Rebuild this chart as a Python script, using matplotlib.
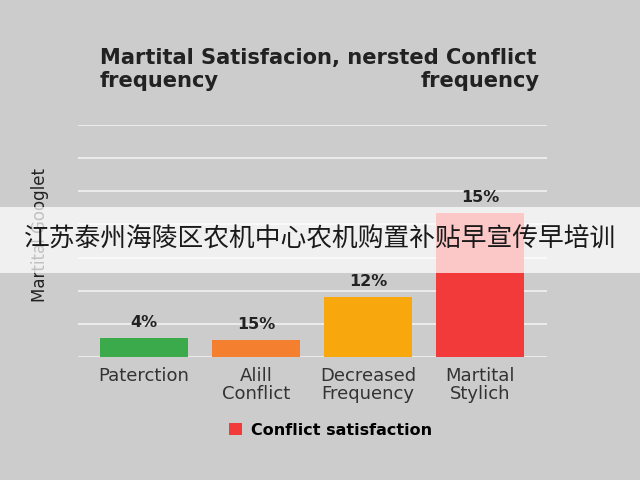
import matplotlib.pyplot as plt
from matplotlib.patches import Patch, Rectangle

categories = ["Paterction", "Alill\nConflict", "Decreased\nFrequency", "Martital\nStylich"]
heights = [2.9, 2.6, 9.1, 21.7]
bar_labels = ["4%", "15%", "12%", "15%"]
colors = ["#3aaa4a", "#f47f2e", "#f8a80c", "#f23a3a"]
legend_label = "Conflict satisfaction"
banner_text = "江苏泰州海陵区农机中心农机购置补贴早宣传早培训"

plt.rcParams['font.family'] = ['DejaVu Sans']

fig = plt.figure(figsize=(6.4, 4.8), dpi=100)
fig.patch.set_facecolor('#cccccc')

ax = fig.add_axes([0.122, 0.256, 0.733, 0.484])
ax.set_facecolor('none')
x = list(range(len(categories)))
bars = ax.bar(x, heights, width=0.79, color=colors, zorder=3)
for xi, h, lab in zip(x, heights, bar_labels):
    ax.text(xi, h + 1.2, lab, ha='center', va='bottom', fontsize=11.5,
            fontweight='bold', color='#222222', zorder=4)

ax.set_xlim(-0.59, 3.6)
ax.set_ylim(0, 35)
ax.set_yticks(range(0, 36, 5))
ax.yaxis.grid(True, color='#f2f2f2', linewidth=1.2, zorder=0)
ax.tick_params(axis='y', left=False, labelleft=False)
ax.tick_params(axis='x', length=0, pad=7, labelsize=13, labelcolor='#333333')
ax.set_xticks(x)
ax.set_xticklabels(categories, linespacing=1.0)
for s in ax.spines.values():
    s.set_visible(False)

fig.text(0.0625, 0.51, "Martital Googlet", rotation=90, ha='center', va='center',
         fontsize=12, color='#222222')

fig.text(0.156, 0.88, "Martital Satisfacion, nersted Conflict", ha='left', va='center',
         fontsize=15.1, fontweight='bold', color='#222222')
fig.text(0.156, 0.831, "frequency", ha='left', va='center',
         fontsize=15.1, fontweight='bold', color='#222222')
fig.text(0.844, 0.831, "frequency", ha='right', va='center',
         fontsize=15.1, fontweight='bold', color='#222222')

handles = [Patch(facecolor=colors[3], label=legend_label)]
fig.legend(handles=handles, loc='center', bbox_to_anchor=(0.517, 0.104), frameon=False,
           prop={'weight': 'bold', 'size': 11.5}, handlelength=0.8, handleheight=0.8,
           handletextpad=0.6)

# translucent banner across the middle
fig.patches.append(Rectangle((0, 1 - 273 / 480), 1, 66 / 480, transform=fig.transFigure,
                             facecolor='white', alpha=0.72, edgecolor='none', zorder=10))
fig.text(0.5, 1 - 240 / 480, banner_text, ha='center', va='center', fontsize=18.5,
         color='#1a1a1a', family=['Noto Sans CJK SC', 'DejaVu Sans'], zorder=11)

fig.savefig('out.png', dpi=100, facecolor=fig.get_facecolor())
